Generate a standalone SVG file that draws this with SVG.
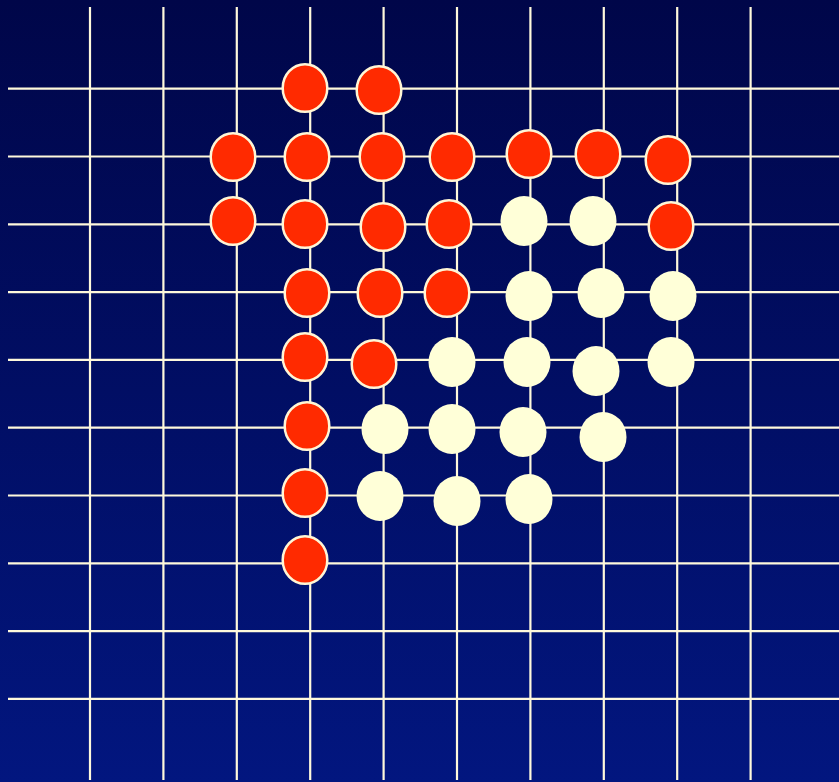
<svg xmlns="http://www.w3.org/2000/svg" width="839" height="782" viewBox="0 0 839 782">
<defs>
<linearGradient id="bg" x1="0" y1="0" x2="0" y2="1">
<stop offset="0" stop-color="#000649"/>
<stop offset="1" stop-color="#02167F"/>
</linearGradient>
<style>
.g line{stroke:#FFF9DC;stroke-width:2.2}
.r{fill:#FF2A00;stroke:#FFF6D6;stroke-width:2.5}
.w{fill:#FFFFD8}
</style>
</defs>
<rect width="839" height="782" fill="url(#bg)"/>
<g id="grid" class="g">
<line x1="90" y1="7" x2="90" y2="780"/>
<line x1="163.4" y1="7" x2="163.4" y2="780"/>
<line x1="236.8" y1="7" x2="236.8" y2="780"/>
<line x1="310.2" y1="7" x2="310.2" y2="780"/>
<line x1="383.6" y1="7" x2="383.6" y2="780"/>
<line x1="457" y1="7" x2="457" y2="780"/>
<line x1="530.4" y1="7" x2="530.4" y2="780"/>
<line x1="603.8" y1="7" x2="603.8" y2="780"/>
<line x1="677.2" y1="7" x2="677.2" y2="780"/>
<line x1="750.6" y1="7" x2="750.6" y2="780"/>
<line x1="8" y1="88.7" x2="839" y2="88.7"/>
<line x1="8" y1="156.5" x2="839" y2="156.5"/>
<line x1="8" y1="224.3" x2="839" y2="224.3"/>
<line x1="8" y1="292.1" x2="839" y2="292.1"/>
<line x1="8" y1="359.9" x2="839" y2="359.9"/>
<line x1="8" y1="427.7" x2="839" y2="427.7"/>
<line x1="8" y1="495.5" x2="839" y2="495.5"/>
<line x1="8" y1="563.3" x2="839" y2="563.3"/>
<line x1="8" y1="631.1" x2="839" y2="631.1"/>
<line x1="8" y1="698.9" x2="839" y2="698.9"/>
</g>
<g id="red-stones">
<g id="r1"><ellipse class="r" cx="305" cy="88" rx="22.3" ry="23.8"/></g>
<g id="r2"><ellipse class="r" cx="379" cy="90" rx="22.3" ry="23.8"/></g>
<g id="r3"><ellipse class="r" cx="233" cy="157" rx="22.3" ry="23.8"/></g>
<g id="r4"><ellipse class="r" cx="307" cy="157" rx="22.3" ry="23.8"/></g>
<g id="r5"><ellipse class="r" cx="382" cy="157" rx="22.3" ry="23.8"/></g>
<g id="r6"><ellipse class="r" cx="452" cy="157" rx="22.3" ry="23.8"/></g>
<g id="r7"><ellipse class="r" cx="529" cy="154" rx="22.3" ry="23.8"/></g>
<g id="r8"><ellipse class="r" cx="598" cy="154" rx="22.3" ry="23.8"/></g>
<g id="r9"><ellipse class="r" cx="668" cy="160" rx="22.3" ry="23.8"/></g>
<g id="r10"><ellipse class="r" cx="233" cy="221" rx="22.3" ry="23.8"/></g>
<g id="r11"><ellipse class="r" cx="305" cy="224" rx="22.3" ry="23.8"/></g>
<g id="r12"><ellipse class="r" cx="383" cy="227" rx="22.3" ry="23.8"/></g>
<g id="r13"><ellipse class="r" cx="449" cy="224" rx="22.3" ry="23.8"/></g>
<g id="r14"><ellipse class="r" cx="671" cy="226" rx="22.3" ry="23.8"/></g>
<g id="r15"><ellipse class="r" cx="307" cy="293" rx="22.3" ry="23.8"/></g>
<g id="r16"><ellipse class="r" cx="380" cy="293" rx="22.3" ry="23.8"/></g>
<g id="r17"><ellipse class="r" cx="447" cy="293" rx="22.3" ry="23.8"/></g>
<g id="r18"><ellipse class="r" cx="305" cy="357" rx="22.3" ry="23.8"/></g>
<g id="r19"><ellipse class="r" cx="374" cy="364" rx="22.3" ry="23.8"/></g>
<g id="r20"><ellipse class="r" cx="307" cy="426" rx="22.3" ry="23.8"/></g>
<g id="r21"><ellipse class="r" cx="305" cy="493" rx="22.3" ry="23.8"/></g>
<g id="r22"><ellipse class="r" cx="305" cy="560" rx="22.3" ry="23.8"/></g>
</g>
<g id="white-stones">
<g id="w1"><ellipse class="w" cx="524" cy="221" rx="23.5" ry="25"/></g>
<g id="w2"><ellipse class="w" cx="593" cy="221" rx="23.5" ry="25"/></g>
<g id="w3"><ellipse class="w" cx="529" cy="296" rx="23.5" ry="25"/></g>
<g id="w4"><ellipse class="w" cx="601" cy="293" rx="23.5" ry="25"/></g>
<g id="w5"><ellipse class="w" cx="673" cy="296" rx="23.5" ry="25"/></g>
<g id="w6"><ellipse class="w" cx="452" cy="362" rx="23.5" ry="25"/></g>
<g id="w7"><ellipse class="w" cx="527" cy="362" rx="23.5" ry="25"/></g>
<g id="w8"><ellipse class="w" cx="596" cy="371" rx="23.5" ry="25"/></g>
<g id="w9"><ellipse class="w" cx="671" cy="362" rx="23.5" ry="25"/></g>
<g id="w10"><ellipse class="w" cx="385" cy="429" rx="23.5" ry="25"/></g>
<g id="w11"><ellipse class="w" cx="452" cy="429" rx="23.5" ry="25"/></g>
<g id="w12"><ellipse class="w" cx="523" cy="432" rx="23.5" ry="25"/></g>
<g id="w13"><ellipse class="w" cx="603" cy="437" rx="23.5" ry="25"/></g>
<g id="w14"><ellipse class="w" cx="380" cy="496" rx="23.5" ry="25"/></g>
<g id="w15"><ellipse class="w" cx="457" cy="501" rx="23.5" ry="25"/></g>
<g id="w16"><ellipse class="w" cx="529" cy="499" rx="23.5" ry="25"/></g>
</g>
</svg>
